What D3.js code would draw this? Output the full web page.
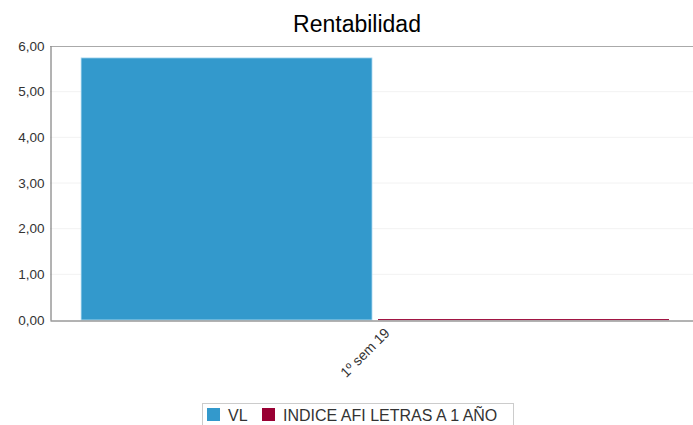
<!DOCTYPE html>
<html lang="es">
<head>
  <meta charset="UTF-8">
  <script src="https://d3js.org/d3.v7.min.js"></script>
  <style>
    body { margin: 0; background: #fff; }
    text { font-family: "Liberation Sans", Arial, sans-serif; }
  </style>
</head>
<body>
  <div id="chart"></div>
  <script>
    // chart data
    const categories = ["1º sem 19"];
    const seriesNames = ["VL", "INDICE AFI LETRAS A 1 AÑO"];
    const seriesColors = ["#3399cc", "#990033"];
    const values = [[5.74, 0.02]]; // per category: [VL, indice]
    const yTicks = [0, 1, 2, 3, 4, 5, 6];

    const w = 693, h = 425;
    const margin = { top: 46, right: 0, bottom: 105, left: 50 };

    const svg = d3.select("#chart").append("svg")
      .attr("width", w).attr("height", h);

    const fmt = d => d.toFixed(2).replace(".", ",");

    const x = d3.scaleBand()
      .domain(categories)
      .range([margin.left, w - margin.right])
      .paddingInner(0)
      .paddingOuter(0.0468)
      .align(0.564);

    const xInner = d3.scaleBand()
      .domain(seriesNames)
      .range([0, x.bandwidth()])
      .paddingInner(0.02);

    const y = d3.scaleLinear()
      .domain([0, 6])
      .range([h - margin.bottom, margin.top]);

    // title
    svg.append("text")
      .attr("x", 357).attr("y", 32)
      .attr("text-anchor", "middle")
      .style("font-size", "23px")
      .attr("fill", "#000")
      .text("Rentabilidad");

    // grid
    svg.append("g")
      .selectAll("line")
      .data(yTicks.slice(1, -1))
      .enter().append("line")
      .attr("x1", margin.left).attr("x2", w - margin.right)
      .attr("y1", d => y(d)).attr("y2", d => y(d))
      .attr("stroke", "#f2f2f2");

    // top border
    svg.append("line")
      .attr("x1", margin.left).attr("x2", w)
      .attr("y1", y(6) + 0.5).attr("y2", y(6) + 0.5)
      .attr("stroke", "#aaa");

    // bars
    const groups = svg.append("g")
      .selectAll("g")
      .data(categories)
      .enter().append("g")
      .attr("transform", d => "translate(" + x(d) + ",0)");

    groups.selectAll("rect")
      .data((d, i) => values[i].map((v, j) => ({ key: seriesNames[j], v: v, c: seriesColors[j] })))
      .enter().append("rect")
      .attr("x", d => xInner(d.key))
      .attr("width", xInner.bandwidth())
      .attr("y", d => y(d.v))
      .attr("height", d => Math.max(1, y(0) - y(d.v)))
      .attr("fill", d => d.c)
      .attr("stroke", d => d.key === "VL" ? "#bfe3f5" : "none")
      .attr("stroke-width", 0.8);

    // y axis
    const yAxis = d3.axisLeft(y)
      .tickValues(yTicks)
      .tickFormat(fmt)
      .tickSize(0)
      .tickPadding(6);

    const gy = svg.append("g")
      .attr("transform", "translate(" + (margin.left + 0.5) + ",0)")
      .call(yAxis);
    gy.select(".domain").attr("stroke", "#666");
    gy.selectAll("text").style("font-size", "13.5px").attr("fill", "#333");

    // x axis
    const xAxis = d3.axisBottom(x).tickSize(0).tickSizeOuter(0);
    const gx = svg.append("g")
      .attr("transform", "translate(0," + (y(0) + 0.5) + ")")
      .call(xAxis);
    gx.select(".domain").attr("stroke", "#666");
    gx.selectAll("text")
      .style("font-size", "14px")
      .style("white-space", "pre")
      .attr("fill", "#333")
      .attr("text-anchor", "end")
      .attr("dy", "0.35em")
      .attr("y", 0)
      .attr("transform", "translate(12,10) rotate(-45)");

    // legend
    const legend = svg.append("g");
    legend.append("rect")
      .attr("x", 202.5).attr("y", 403.5)
      .attr("width", 311).attr("height", 30)
      .attr("fill", "#fff")
      .attr("stroke", "#ccc");

    const lx = [207, 262];
    const items = legend.selectAll("g.item")
      .data(seriesNames)
      .enter().append("g")
      .attr("class", "item")
      .attr("transform", (d, i) => "translate(" + lx[i] + ",408)");
    items.append("rect")
      .attr("width", 13).attr("height", 13)
      .attr("fill", (d, i) => seriesColors[i]);
    items.append("text")
      .attr("x", 21).attr("y", 13)
      .style("font-size", "16px")
      .attr("fill", "#333")
      .text(d => d);
  </script>
</body>
</html>
